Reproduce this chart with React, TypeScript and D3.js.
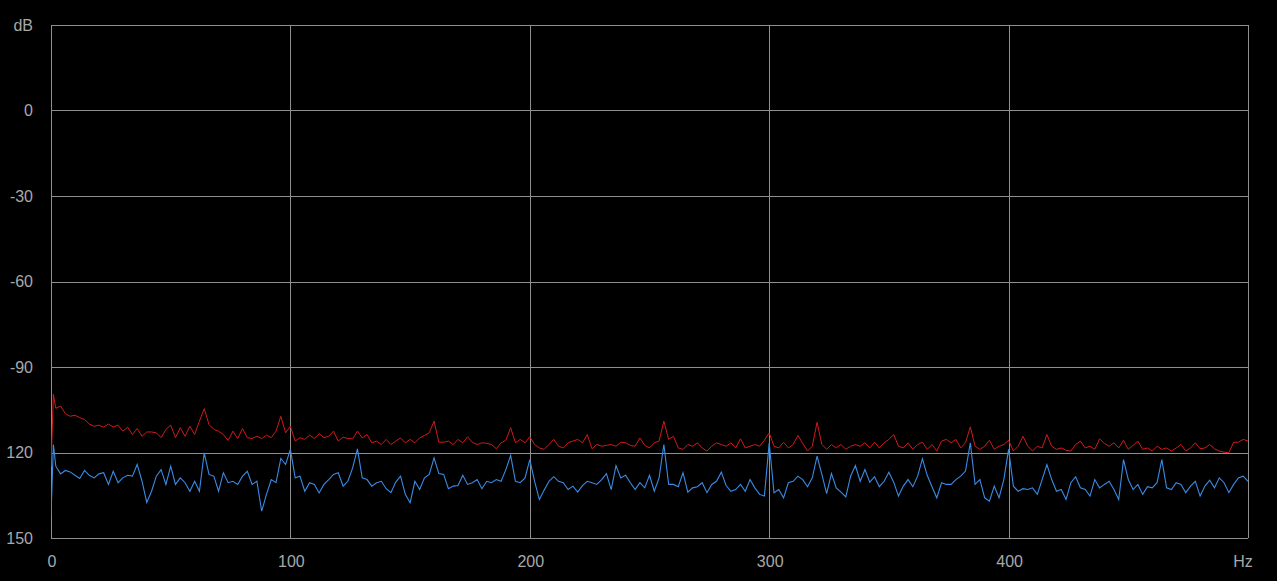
import * as d3 from 'd3';

// frequency bins (Hz)
const freqs: number[] = [0, 1, ...d3.range(2, 501, 2)];

// channel 1 (red), dB
const redDb: number[] = [
  -124.8, -99.6, -104.5, -103.7, -106.4, -107.3, -106.9, -107.8, -108.4, -110,
  -110.8, -110.4, -111.1, -110, -111.1, -110.4, -112.5, -111.1, -113.7, -111.6,
  -114.3, -112.8, -112.8, -113.1, -114.8, -111.9, -110.4, -114.8, -111.3, -114.3,
  -110.8, -113.7, -109, -104.6, -110.2, -111.9, -112.5, -113.7, -115.8, -112.5,
  -115.1, -111.6, -114.8, -115.1, -114.3, -115.1, -113.9, -114.8, -112.5, -107.3,
  -113.1, -110.8, -116, -114.8, -115.4, -113.9, -115.1, -113.4, -114.8, -114.3,
  -112.5, -116, -114.6, -115.1, -115.2, -112.5, -114.9, -113.7, -116.6, -116,
  -117.2, -115.4, -117.2, -116, -114.9, -116.6, -115.4, -116.6, -114.9, -114,
  -113.1, -109, -116.4, -116.4, -116, -117.2, -115.4, -116.6, -114.5, -116.4,
  -117.2, -116.6, -116.8, -117.2, -118.7, -116.6, -115.7, -111.3, -116.6, -115.4,
  -116.6, -114.5, -117.2, -118.4, -118.9, -117.2, -115.4, -117.8, -118.4, -116.6,
  -116, -115.4, -116.6, -113.7, -118.7, -117.2, -117.8, -117.5, -117.2, -117.8,
  -116.4, -116.6, -117.5, -117.8, -114.9, -117.5, -118.4, -116.6, -116, -109,
  -115.4, -114.3, -118.4, -118.9, -117.2, -117.8, -116.6, -118.4, -119.5, -117.8,
  -116.6, -117.2, -117.8, -116.6, -118.4, -115.2, -118.4, -117.8, -117.2, -117.8,
  -115.7, -113.1, -117.8, -118.4, -116.4, -118.4, -117.2, -114, -116.8, -119.5,
  -117.8, -109.4, -117.2, -118.9, -117.2, -118.4, -117.2, -118.9, -117.8, -117.2,
  -117.8, -116.6, -118.4, -116.4, -118.4, -116.6, -115.4, -113.7, -117.8, -118.4,
  -116.6, -118.9, -117.2, -116.4, -118.9, -117.2, -119.5, -116, -115.4, -116.6,
  -115.4, -118.4, -116.6, -111, -117.8, -118.9, -117.8, -115.7, -118.9, -117.8,
  -117.2, -115.7, -119.5, -117.8, -114.3, -117.8, -119.5, -117.8, -118.4, -113.7,
  -117.8, -118.9, -118.4, -119.2, -119.5, -117.2, -116, -118.4, -117.8, -118.9,
  -115.2, -116.8, -117.8, -116.6, -118.4, -115.7, -118.9, -117.5, -116, -118.9,
  -118.4, -119.5, -117.8, -118.9, -118.4, -119.5, -118.4, -117.2, -119.5, -118.4,
  -116.6, -118.7, -118.4, -117.2, -118.7, -119.5, -119.9, -120.1, -116.4, -116.4,
  -115.4, -116,
];

// channel 2 (blue), dB
const blueDb: number[] = [
  -142.3, -117.2, -124.8, -127.5, -126.3, -126.8, -128, -129.1, -126.3, -128,
  -128.9, -127.5, -127.1, -131.2, -126.6, -130.6, -128.9, -128, -128.3, -124.2,
  -130, -137.5, -133.6, -128.3, -126, -131.2, -124.8, -131.2, -128.9, -130.6,
  -133.6, -130.1, -133.6, -120.1, -127.7, -128.3, -133.6, -127.1, -130.6, -130.1,
  -131.2, -128.3, -126.6, -131.2, -130.1, -140.6, -134.7, -129.5, -130.6, -122.1,
  -124.2, -118.9, -128.9, -128.3, -133.6, -130.6, -131.2, -134.2, -131.2, -129.5,
  -127.7, -127.1, -131.8, -130.1, -125.4, -118.7, -128.9, -129.5, -131.8, -130.6,
  -130.1, -132.7, -134.1, -130.4, -128.3, -134.7, -137.6, -130.1, -133, -128.9,
  -127.7, -121.9, -127.4, -127.7, -132.7, -131.8, -131.6, -128, -131.2, -130.6,
  -129.5, -132.7, -130.1, -130.6, -129.5, -130.1, -126, -121, -130.1, -130.6,
  -128.9, -122.5, -130.1, -136.5, -133.2, -130.1, -128.5, -130.1, -130.6, -133,
  -131.8, -133.9, -131.6, -130.1, -130.6, -131.2, -129.5, -127.4, -133, -124.6,
  -128.9, -128, -130.6, -133, -130.6, -132.4, -128, -133.6, -128.9, -117.2,
  -131.2, -131.2, -132, -127.1, -133.9, -132.4, -132, -130.6, -134.1, -131.2,
  -130.1, -126.9, -131.6, -133.6, -133, -131.2, -133.6, -129.5, -132.4, -134.7,
  -135.3, -116.6, -134.1, -133, -135.9, -130.6, -130.1, -128.3, -129.5, -132,
  -128.9, -121.3, -127.7, -134.4, -127.4, -132.4, -133.9, -135.6, -128.3, -124.6,
  -130.1, -126, -130.4, -128.5, -132, -130.1, -126.9, -130.4, -135.3, -131.8,
  -129.5, -132, -128.3, -122.2, -128, -132, -135.9, -130.6, -131.2, -131.2,
  -129.5, -128.3, -126.5, -116.6, -131.2, -129.5, -135.9, -137.1, -131.8, -135.9,
  -129.5, -118.9, -131.8, -133.6, -132.7, -133, -132.4, -134.7, -129.5, -124.2,
  -129.5, -133.6, -133, -136.5, -130.6, -128.5, -132.4, -133, -135.3, -129.5,
  -132.4, -131.2, -130.1, -133, -136.5, -122.5, -129.5, -133, -131.2, -134.7,
  -132, -132.4, -130.6, -122.5, -132.4, -133, -130.6, -131.2, -134.1, -131.8,
  -130.1, -135.3, -131.8, -129.7, -132.4, -128.9, -130.6, -134.1, -131.2, -128.9,
  -128.3, -130.1,
];

const yTicks: number[] = [30, 0, -30, -60, -90, -120, -150];
const yTickLabels: string[] = ['dB', '0', '-30', '-60', '-90', '120', '150'];
const xTicks: number[] = [0, 100, 200, 300, 400, 500];
const xTickLabels: string[] = ['0', '100', '200', '300', '400', 'Hz'];

export default function App() {
  const width = 1277;
  const height = 581;
  const left = 51, right = 1248, top = 25, bottom = 538;

  const x = d3.scaleLinear().domain([0, 500]).range([left, right]);
  const y = d3.scaleLinear().domain([30, -150]).range([top, bottom]);

  const line = d3.line<number>()
    .x((_, i) => x(freqs[i]))
    .y((d) => y(d));

  const gridColor = '#8f8f8f';
  const textColor = '#a8a8a8';
  const font = '"Liberation Sans", Arial, sans-serif';

  return (
    <svg
      width={width}
      height={height}
      style={{ position: 'absolute', left: 0, top: 0, background: '#000' }}
    >
      <rect x={0} y={0} width={width} height={height} fill="#000" />
      <defs>
        <clipPath id="plot">
          <rect x={left} y={top} width={right - left} height={bottom - top} />
        </clipPath>
      </defs>

      {/* grid */}
      {yTicks.map((t) => (
        <line key={'gy' + t} x1={left} x2={right} y1={Math.round(y(t)) + 0.5} y2={Math.round(y(t)) + 0.5}
          stroke={gridColor} strokeWidth={1} />
      ))}
      {xTicks.map((t) => (
        <line key={'gx' + t} y1={top} y2={bottom} x1={Math.round(x(t)) + 0.5} x2={Math.round(x(t)) + 0.5}
          stroke={gridColor} strokeWidth={1} />
      ))}

      {/* data */}
      <g clipPath="url(#plot)">
        <path d={line(redDb) || ''} fill="none" stroke="#d11a1a" strokeWidth={1} />
        <path d={line(blueDb) || ''} fill="none" stroke="#3a8be4" strokeWidth={1.1} />
      </g>

      {/* y labels */}
      {yTicks.map((t, i) => (
        <text key={'ly' + t} x={33} y={y(t)} dy="0.35em" textAnchor="end"
          fill={textColor} fontFamily={font} fontSize={16}>{yTickLabels[i]}</text>
      ))}

      {/* x labels */}
      {xTicks.map((t, i) => (
        <text key={'lx' + t} x={i === xTicks.length - 1 ? x(t) - 5 : x(t) + 1} y={561} dy="0.35em" textAnchor="middle"
          fill={textColor} fontFamily={font} fontSize={16}>{xTickLabels[i]}</text>
      ))}
    </svg>
  );
}
